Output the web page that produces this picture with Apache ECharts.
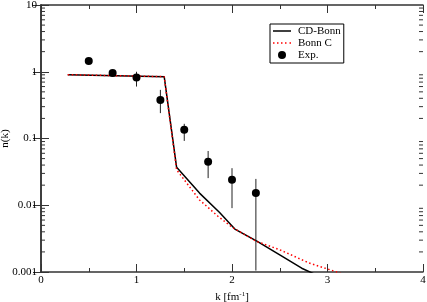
<!DOCTYPE html>
<html>
<head>
<meta charset="utf-8">
<script src="https://cdn.jsdelivr.net/npm/echarts@6/dist/echarts.min.js"></script>
<style>html,body{margin:0;padding:0;background:#fff}#c{width:427px;height:302px}</style>
</head>
<body>
<div id="c"></div>
<script>
// CD-Bonn curve [k, n(k)]
var cdBonnK = [0.28, 1.29, 1.42, 1.66, 1.87, 2.03, 2.26, 2.50, 2.73, 2.90];
var cdBonnN = [0.905, 0.845, 0.037, 0.0152, 0.0078, 0.0044, 0.0029, 0.0018, 0.00114, 0.00088];
// Bonn C curve
var bonnCK = [0.28, 1.29, 1.42, 1.66, 1.85, 2.00, 2.25, 2.50, 2.81, 3.08, 3.20];
var bonnCN = [0.905, 0.845, 0.034, 0.012, 0.0069, 0.0047, 0.0029, 0.00215, 0.00136, 0.00102, 0.00088];
// Experimental points with error bars
var expK  = [0.50, 0.75, 1.00, 1.25, 1.50, 1.75, 2.00, 2.25];
var expN  = [1.45, 0.96, 0.817, 0.378, 0.135, 0.0447, 0.024, 0.0152];
var expLo = [1.45, 0.96, 0.60, 0.24, 0.092, 0.0255, 0.00906, 0.00105];
var expHi = [1.45, 0.96, 1.00, 0.535, 0.166, 0.065, 0.0359, 0.0248];
// axis ticks
var xTicks = [0, 1, 2, 3, 4];
var yDecades = [0.001, 0.01, 0.1, 1, 10];

var minorVals = [];
for (var d = 0; d < yDecades.length - 1; d++) {
  for (var m = 2; m <= 9; m++) minorVals.push(m * yDecades[d]);
}

function zip(a, b) { return a.map(function (v, i) { return [v, b[i]]; }); }

var FONT = 'Liberation Serif';
var AX = '#333';
var ICON_LINE = 'path://M0 0H18V1.5H0Z';
var ICON_DOT = 'path://M0 0H1.5V1.5H0Z M4 0H5.5V1.5H4Z M8 0H9.5V1.5H8Z M12 0H13.5V1.5H12Z M16.5 0H18V1.5H16.5Z';

var chart = echarts.init(document.getElementById('c'), null, {renderer: 'canvas'});
chart.setOption({
  animation: false,
  backgroundColor: '#fff',
  textStyle: {fontFamily: FONT, color: '#000'},
  grid: {left: 41, right: 4, top: 5, bottom: 30, containLabel: false, outerBoundsMode: 'none'},
  legend: {
    left: 270, top: 24, orient: 'vertical',
    backgroundColor: '#fff', borderColor: '#000', borderWidth: 1, borderRadius: 0,
    padding: [1, 3, 2, 3], itemGap: 0, itemWidth: 18, itemHeight: 8,
    textStyle: {fontFamily: FONT, fontSize: 11, color: '#000', lineHeight: 12, padding: [0, 0, 0, 2]},
    data: [
      {name: 'CD-Bonn', icon: ICON_LINE},
      {name: 'Bonn C', icon: ICON_DOT},
      {name: 'Exp.', icon: 'circle'}
    ]
  },
  xAxis: [{
    type: 'value', min: xTicks[0], max: xTicks[xTicks.length - 1], interval: 1,
    name: 'k [fm{sup|-1}]', nameLocation: 'middle', nameGap: 17,
    nameTextStyle: {fontFamily: FONT, fontSize: 11, color: '#000',
      rich: {sup: {fontFamily: FONT, fontSize: 7, padding: [0, 0, 6, 0]}}},
    axisLine: {show: true, lineStyle: {color: AX, width: 1.5}},
    axisTick: {show: true, inside: true, length: 8, lineStyle: {color: AX}},
    minorTick: {show: true, splitNumber: 2, length: 4, lineStyle: {color: AX}},
    axisLabel: {fontFamily: FONT, fontSize: 11, color: '#000', margin: 3},
    splitLine: {show: false}
  }, {
    type: 'value', position: 'top', min: xTicks[0], max: xTicks[xTicks.length - 1], interval: 1,
    axisLine: {show: true, lineStyle: {color: AX, width: 1.5}},
    axisTick: {show: true, inside: true, length: 8, lineStyle: {color: AX}},
    minorTick: {show: true, splitNumber: 2, length: 4, lineStyle: {color: AX}},
    axisLabel: {show: false}, splitLine: {show: false}
  }],
  yAxis: [{
    type: 'log', logBase: 10, min: yDecades[0], max: yDecades[yDecades.length - 1], interval: 1,
    name: 'n(k)', nameLocation: 'middle', nameGap: 30, nameRotate: 90, nameMoveOverlap: false,
    nameTextStyle: {fontFamily: FONT, fontSize: 11, color: '#000'},
    axisLine: {show: true, lineStyle: {color: AX, width: 1.5}},
    axisTick: {show: true, inside: true, length: 8, lineStyle: {color: AX}},
    axisLabel: {fontFamily: FONT, fontSize: 11, color: '#000', margin: 4,
      formatter: function (v) { return String(+v.toPrecision(3)); }},
    splitLine: {show: false}
  }, {
    type: 'log', logBase: 10, position: 'right', min: yDecades[0], max: yDecades[yDecades.length - 1], interval: 1,
    axisLine: {show: true, lineStyle: {color: AX, width: 1.5}},
    axisTick: {show: true, inside: true, length: 8, lineStyle: {color: AX}},
    axisLabel: {show: false}, splitLine: {show: false}
  }],
  series: [{
    name: 'minorY', type: 'custom', silent: true, z: 1,
    data: minorVals.map(function (v) { return [v]; }),
    encode: {y: 0},
    renderItem: function (params, api) {
      var v = api.value(0);
      var l = api.coord([0, v]);
      var r = api.coord([4, v]);
      return {type: 'group', children: [
        {type: 'line', shape: {x1: l[0], y1: l[1], x2: l[0] + 4, y2: l[1]}, style: {stroke: AX, lineWidth: 1}},
        {type: 'line', shape: {x1: r[0], y1: r[1], x2: r[0] - 4, y2: r[1]}, style: {stroke: AX, lineWidth: 1}}
      ]};
    }
  }, {
    name: 'CD-Bonn', type: 'line', data: zip(cdBonnK, cdBonnN), symbol: 'none', z: 2,
    lineStyle: {color: '#000', width: 1.5}, itemStyle: {color: '#000'}
  }, {
    name: 'Bonn C', type: 'line', data: zip(bonnCK, bonnCN), symbol: 'none', z: 3,
    lineStyle: {color: '#ff0000', width: 1.5, type: [1.5, 2.5]}, itemStyle: {color: '#ff0000'}
  }, {
    name: 'errbar', type: 'custom', silent: true, z: 4,
    data: expK.map(function (k, i) { return [k, expLo[i], expHi[i]]; }),
    encode: {x: 0, y: [1, 2]},
    renderItem: function (params, api) {
      var a = api.coord([api.value(0), api.value(1)]);
      var b = api.coord([api.value(0), api.value(2)]);
      return {type: 'line', shape: {x1: a[0], y1: a[1], x2: b[0], y2: b[1]}, style: {stroke: '#222', lineWidth: 1}};
    }
  }, {
    name: 'Exp.', type: 'scatter', data: zip(expK, expN), symbol: 'circle', symbolSize: 8, z: 5,
    itemStyle: {color: '#000', opacity: 1}
  }]
});
</script>
</body>
</html>
